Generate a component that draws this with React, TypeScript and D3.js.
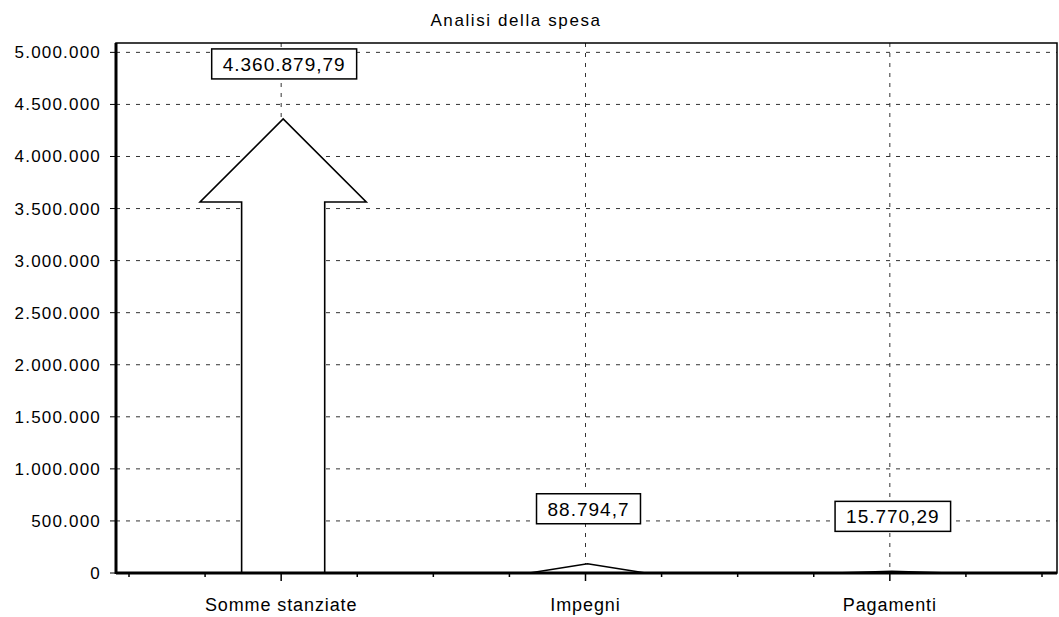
import { useEffect, useRef } from 'react';
import * as d3 from 'd3';

const categories = ['Somme stanziate', 'Impegni', 'Pagamenti'];
const values = [4360879.79, 88794.7, 15770.29];
const yTickValues = [0, 500000, 1000000, 1500000, 2000000, 2500000, 3000000, 3500000, 4000000, 4500000, 5000000];
const title = 'Analisi della spesa';

const W = 1059;
const H = 617;
const FONT = '"Liberation Sans", Arial, sans-serif';

const it = d3.formatLocale({ decimal: ',', thousands: '.', grouping: [3], currency: ['', ''] });
const fmtAxis = it.format(',');
const fmtValue = it.format(',.2~f');

const App = () => {
  const svgRef = useRef<SVGSVGElement>(null);

  useEffect(() => {
    const svg = d3.select(svgRef.current);
    svg.selectAll('*').remove();

    const left = 116;
    const right = 1057;
    const top = 43;
    const bottom = 573;

    const y = d3.scaleLinear().domain([0, 5090000]).range([bottom, top]);
    const x = d3.scaleBand().domain(categories).range([129, 1042]).padding(0);
    const bw = x.bandwidth();
    const cx = (c: string) => (x(c) as number) + bw / 2;

    // title
    svg
      .append('text')
      .attr('x', 516)
      .attr('y', 26)
      .attr('text-anchor', 'middle')
      .style('font-family', FONT)
      .style('font-size', '17px')
      .style('letter-spacing', '1.6px')
      .text(title);

    // horizontal grid
    svg
      .append('g')
      .selectAll('line')
      .data(yTickValues.filter((d) => d > 0))
      .join('line')
      .attr('x1', left)
      .attr('x2', right)
      .attr('y1', (d) => y(d))
      .attr('y2', (d) => y(d))
      .attr('stroke', '#333')
      .attr('stroke-width', 1)
      .attr('stroke-dasharray', '4,6');

    // vertical grid
    svg
      .append('g')
      .selectAll('line')
      .data(categories)
      .join('line')
      .attr('x1', (d) => cx(d))
      .attr('x2', (d) => cx(d))
      .attr('y1', top)
      .attr('y2', bottom)
      .attr('stroke', '#333')
      .attr('stroke-width', 1)
      .attr('stroke-dasharray', '4,6');

    // arrows
    const shaftW = bw * 0.273;
    const headW = shaftW * 2;
    svg
      .append('g')
      .selectAll('path')
      .data(categories)
      .join('path')
      .attr('d', (c, i) => {
        const c0 = cx(c) + 2;
        const tipY = y(values[i]);
        const barH = bottom - tipY;
        const headH = Math.min(headW / 2, barH);
        const hw = barH < headW / 2 ? headW * 0.7 : headW;
        const baseY = tipY + headH;
        const p = d3.path();
        p.moveTo(c0 - shaftW / 2, bottom);
        p.lineTo(c0 - shaftW / 2, baseY);
        p.lineTo(c0 - hw / 2, baseY);
        p.lineTo(c0, tipY);
        p.lineTo(c0 + hw / 2, baseY);
        p.lineTo(c0 + shaftW / 2, baseY);
        p.lineTo(c0 + shaftW / 2, bottom);
        p.closePath();
        return p.toString();
      })
      .attr('fill', 'white')
      .attr('stroke', '#000')
      .attr('stroke-width', 1.6)
      .attr('stroke-linejoin', 'miter');

    // frame
    svg
      .append('rect')
      .attr('x', left)
      .attr('y', top)
      .attr('width', right - left)
      .attr('height', bottom - top)
      .attr('fill', 'none')
      .attr('stroke', '#000')
      .attr('stroke-width', 1.5);
    svg
      .append('line')
      .attr('x1', left)
      .attr('x2', left)
      .attr('y1', top)
      .attr('y2', bottom + 1)
      .attr('stroke', '#000')
      .attr('stroke-width', 3);
    svg
      .append('line')
      .attr('x1', left)
      .attr('x2', right)
      .attr('y1', bottom)
      .attr('y2', bottom)
      .attr('stroke', '#000')
      .attr('stroke-width', 3);

    // y axis ticks + labels
    const yAx = svg.append('g');
    yAx
      .selectAll('line')
      .data(yTickValues)
      .join('line')
      .attr('x1', left - 6)
      .attr('x2', left)
      .attr('y1', (d) => y(d))
      .attr('y2', (d) => y(d))
      .attr('stroke', '#000')
      .attr('stroke-width', 1);
    yAx
      .selectAll('text')
      .data(yTickValues)
      .join('text')
      .attr('x', 101)
      .attr('y', (d) => y(d))
      .attr('dy', '0.35em')
      .attr('text-anchor', 'end')
      .style('font-family', FONT)
      .style('font-size', '17px')
      .style('letter-spacing', '1.2px')
      .text((d) => fmtAxis(d));

    // x axis ticks
    const quarters = d3.range(0, categories.length * 4 + 1).map((k) => 129 + (k * bw) / 4);
    svg
      .append('g')
      .selectAll('line')
      .data(quarters)
      .join('line')
      .attr('x1', (d) => d)
      .attr('x2', (d) => d)
      .attr('y1', bottom)
      .attr('y2', (d, k) => bottom + (k % 4 === 2 ? 8 : 4))
      .attr('stroke', '#000')
      .attr('stroke-width', 1.5);

    svg
      .append('g')
      .selectAll('text')
      .data(categories)
      .join('text')
      .attr('x', (d) => cx(d))
      .attr('y', 611)
      .attr('text-anchor', 'middle')
      .style('font-family', FONT)
      .style('font-size', '18px')
      .style('letter-spacing', '0.9px')
      .text((d) => d);

    // value labels in boxes
    const labels = svg
      .append('g')
      .selectAll('g')
      .data(categories)
      .join('g')
      .attr('transform', (c, i) => `translate(${cx(c) + 3},${y(values[i]) - 55})`);
    labels.append('rect').attr('fill', 'white').attr('stroke', '#000').attr('stroke-width', 1.5);
    labels
      .append('text')
      .attr('text-anchor', 'middle')
      .attr('y', 0)
      .attr('dy', '0.36em')
      .style('font-family', FONT)
      .style('font-size', '19px')
      .style('letter-spacing', '1px')
      .text((c, i) => fmtValue(values[i]));
    labels.each(function () {
      const g = d3.select(this);
      const t = g.select('text').node() as SVGTextElement;
      const w = t.getComputedTextLength();
      g.select('rect')
        .attr('x', -w / 2 - 11)
        .attr('y', -15)
        .attr('width', w + 22)
        .attr('height', 30);
    });
  }, []);

  return (
    <svg
      ref={svgRef}
      width={W}
      height={H}
      style={{ position: 'absolute', left: 0, top: 0, background: 'white', display: 'block' }}
    />
  );
};

export default App;
